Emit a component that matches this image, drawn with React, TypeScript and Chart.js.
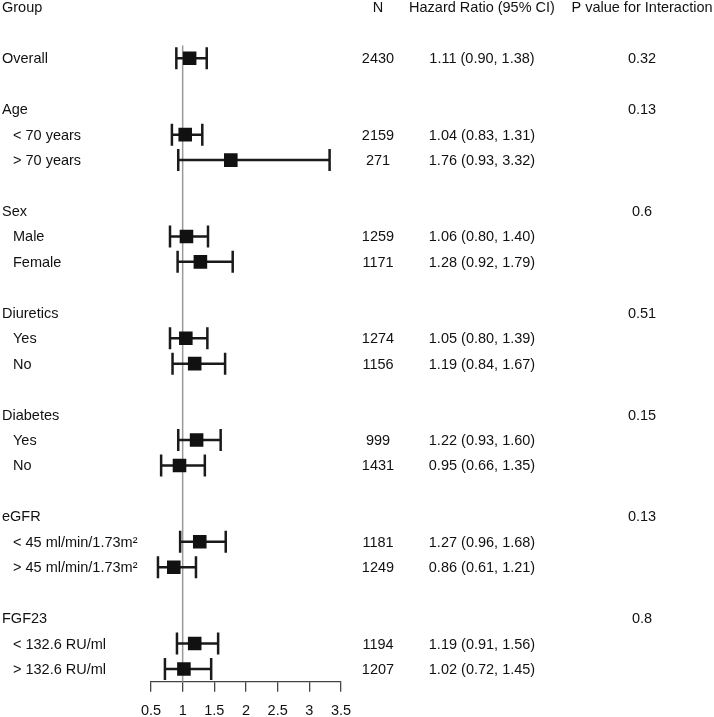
import { useEffect, useRef } from "react";
import { Chart, registerables } from "chart.js";

Chart.register(...registerables);

// ---- data ----
const rowLabels = [
  "Overall",
  "Age", "< 70 years", "> 70 years",
  "Sex", "Male", "Female",
  "Diuretics", "Yes", "No",
  "Diabetes", "Yes", "No",
  "eGFR", "< 45 ml/min/1.73m²", "> 45 ml/min/1.73m²",
  "FGF23", "< 132.6 RU/ml", "> 132.6 RU/ml",
];
const isSubgroup = [
  false,
  false, true, true,
  false, true, true,
  false, true, true,
  false, true, true,
  false, true, true,
  false, true, true,
];
const nValues = [
  "2430",
  "", "2159", "271",
  "", "1259", "1171",
  "", "1274", "1156",
  "", "999", "1431",
  "", "1181", "1249",
  "", "1194", "1207",
];
const hrValues: (number | null)[] = [
  1.11,
  null, 1.04, 1.76,
  null, 1.06, 1.28,
  null, 1.05, 1.19,
  null, 1.22, 0.95,
  null, 1.27, 0.86,
  null, 1.19, 1.02,
];
const ciLow: (number | null)[] = [
  0.9,
  null, 0.83, 0.93,
  null, 0.8, 0.92,
  null, 0.8, 0.84,
  null, 0.93, 0.66,
  null, 0.96, 0.61,
  null, 0.91, 0.72,
];
const ciHigh: (number | null)[] = [
  1.38,
  null, 1.31, 3.32,
  null, 1.4, 1.79,
  null, 1.39, 1.67,
  null, 1.6, 1.35,
  null, 1.68, 1.21,
  null, 1.56, 1.45,
];
const pValues = [
  "0.32",
  "0.13", "", "",
  "0.6", "", "",
  "0.51", "", "",
  "0.15", "", "",
  "0.13", "", "",
  "0.8", "", "",
];
const headers = ["Group", "N", "Hazard Ratio (95% CI)", "P value for Interaction"];
const xTicks = [0.5, 1, 1.5, 2, 2.5, 3, 3.5];
const referenceValue = 1;

// row positions: a blank row precedes every group heading after the first row
const rowPos: number[] = [];
{
  let r = 0;
  rowLabels.forEach((_, i) => {
    if (i > 0 && !isSubgroup[i]) r += 1;
    rowPos.push(r);
    r += 1;
  });
}
const lastRow = rowPos[rowPos.length - 1];

const FONT = '14.5px "Liberation Sans", Arial, Helvetica, sans-serif';
const TEXT_COLOR = "#111";

export default function App() {
  const canvasRef = useRef<HTMLCanvasElement | null>(null);

  useEffect(() => {
    const canvas = canvasRef.current;
    if (!canvas) return;

    const points = hrValues
      .map((v, i) => (v == null ? null : { x: v, y: rowPos[i] }))
      .filter((p) => p !== null) as { x: number; y: number }[];

    const forestPlugin = {
      id: "forest",
      beforeDatasetsDraw(chart: any) {
        const { ctx, chartArea, scales } = chart;
        const xs = scales.x;
        const ys = scales.y;
        ctx.save();
        // reference line
        const rx = xs.getPixelForValue(referenceValue);
        ctx.strokeStyle = "#9a9a9a";
        ctx.lineWidth = 1.5;
        ctx.beginPath();
        ctx.moveTo(rx, chartArea.top);
        ctx.lineTo(rx, chartArea.bottom);
        ctx.stroke();
        // CI whiskers
        ctx.strokeStyle = "#1a1a1a";
        ctx.lineWidth = 2.5;
        hrValues.forEach((v, i) => {
          if (v == null) return;
          const y = ys.getPixelForValue(rowPos[i]);
          const x1 = xs.getPixelForValue(ciLow[i] as number);
          const x2 = xs.getPixelForValue(ciHigh[i] as number);
          ctx.beginPath();
          ctx.moveTo(x1, y);
          ctx.lineTo(x2, y);
          ctx.moveTo(x1, y - 11);
          ctx.lineTo(x1, y + 11);
          ctx.moveTo(x2, y - 11);
          ctx.lineTo(x2, y + 11);
          ctx.stroke();
        });
        ctx.restore();
      },
      afterDraw(chart: any) {
        const { ctx, scales } = chart;
        const ys = scales.y;
        ctx.save();
        ctx.font = FONT;
        ctx.fillStyle = TEXT_COLOR;
        ctx.textBaseline = "middle";
        const nX = 378;
        const hrX = 482;
        const pX = 642;
        const off = 1;
        // headers
        const hy = ys.getPixelForValue(-2) + off;
        ctx.textAlign = "left";
        ctx.fillText(headers[0], 2, hy);
        ctx.textAlign = "center";
        ctx.fillText(headers[1], nX, hy);
        ctx.fillText(headers[2], hrX, hy);
        ctx.fillText(headers[3], pX, hy);
        rowLabels.forEach((label, i) => {
          const y = ys.getPixelForValue(rowPos[i]) + off;
          ctx.textAlign = "left";
          ctx.fillText(label, isSubgroup[i] ? 13 : 2, y);
          ctx.textAlign = "center";
          if (nValues[i]) ctx.fillText(nValues[i], nX, y);
          const v = hrValues[i];
          if (v != null) {
            const s = `${v.toFixed(2)} (${(ciLow[i] as number).toFixed(2)}, ${(ciHigh[i] as number).toFixed(2)})`;
            ctx.fillText(s, hrX, y);
          }
          if (pValues[i]) ctx.fillText(pValues[i], pX, y);
        });
        ctx.restore();
      },
    };

    const chart = new Chart(canvas, {
      type: "scatter",
      data: {
        datasets: [
          {
            data: points,
            pointStyle: "rect",
            pointRadius: 9.6,
            pointHoverRadius: 9.6,
            backgroundColor: "#111",
            borderColor: "#111",
            borderWidth: 0,
          },
        ],
      },
      options: {
        responsive: false,
        animation: false,
        devicePixelRatio: 1,
        layout: { padding: { top: 45.6, left: 151, right: 373, bottom: 0 } },
        plugins: { legend: { display: false }, tooltip: { enabled: false }, title: { display: false } },
        scales: {
          x: {
            type: "linear",
            min: xTicks[0],
            max: xTicks[xTicks.length - 1],
            afterFit: (scale: any) => {
              scale.height = 35.3;
            },
            afterBuildTicks: (scale: any) => {
              scale.ticks = xTicks.map((v) => ({ value: v }));
            },
            grid: {
              display: true,
              drawOnChartArea: false,
              drawTicks: true,
              tickLength: 10,
              color: "#444",
              lineWidth: 1.3,
            },
            border: { display: true, color: "#444", width: 1.3 },
            ticks: {
              font: { family: '"Liberation Sans", Arial, sans-serif', size: 14.5 },
              color: TEXT_COLOR,
              padding: 11,
              maxRotation: 0,
              autoSkip: false,
              callback: (v: any) => String(v),
            },
          },
          y: {
            type: "linear",
            display: false,
            reverse: true,
            min: -0.5,
            max: lastRow + 0.5,
          },
        },
      },
      plugins: [forestPlugin],
    });

    return () => chart.destroy();
  }, []);

  return (
    <div style={{ position: "fixed", left: 0, top: 0, width: 714, height: 717, background: "#fff" }}>
      <canvas ref={canvasRef} width={714} height={717} style={{ display: "block" }} />
    </div>
  );
}
